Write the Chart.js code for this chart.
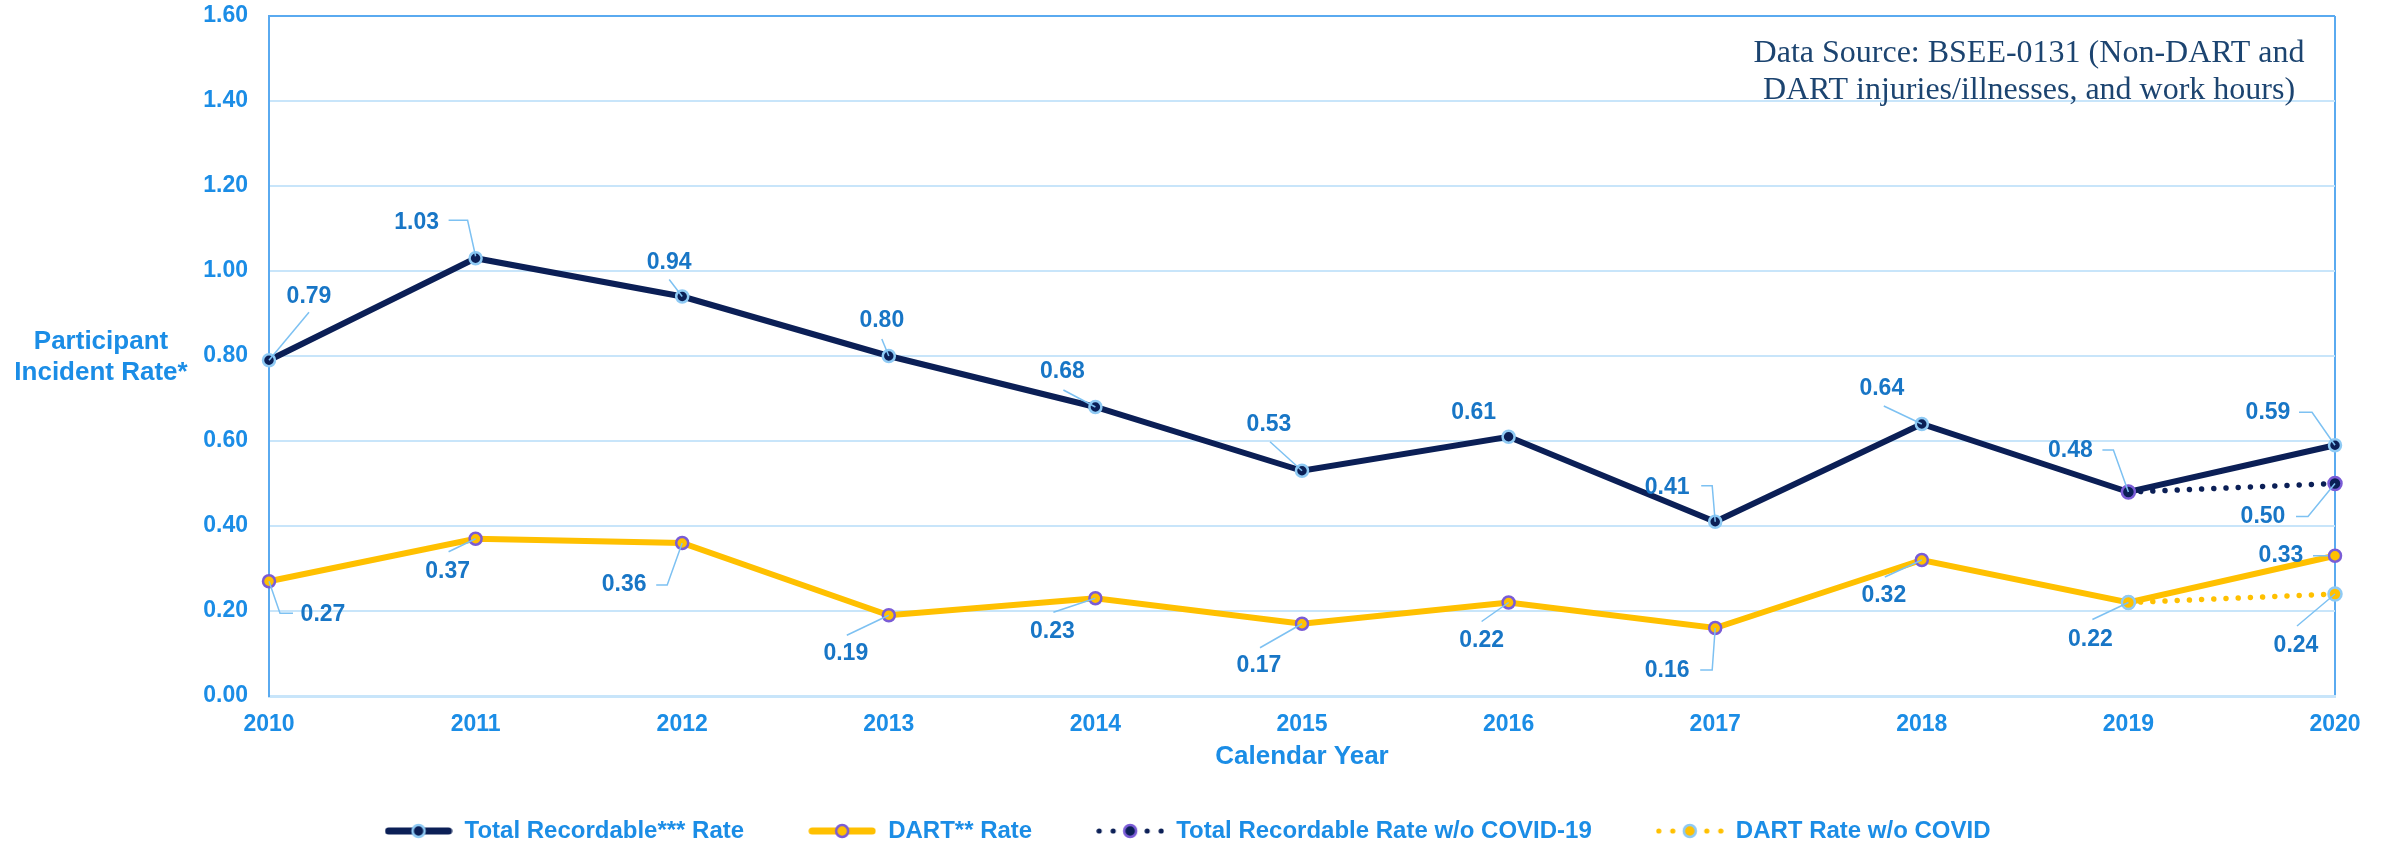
<!DOCTYPE html>
<html>
<head>
<meta charset="utf-8">
<script src="https://cdn.jsdelivr.net/npm/chart.js@4.4.0/dist/chart.umd.min.js"></script>
<style>
  html, body { margin: 0; padding: 0; background: #fff; }
</style>
</head>
<body>
<canvas id="rateChart" width="2389" height="845"></canvas>
<script>
// --- data ---
const years = ['2010', '2011', '2012', '2013', '2014', '2015', '2016', '2017', '2018', '2019', '2020'];
const totalRecordable = [0.79, 1.03, 0.94, 0.80, 0.68, 0.53, 0.61, 0.41, 0.64, 0.48, 0.59];
const dartRate = [0.27, 0.37, 0.36, 0.19, 0.23, 0.17, 0.22, 0.16, 0.32, 0.22, 0.33];
const totalNoCovid = [null, null, null, null, null, null, null, null, null, 0.48, 0.50];
const dartNoCovid = [null, null, null, null, null, null, null, null, null, 0.22, 0.24];
const seriesNames = ['Total Recordable*** Rate', 'DART** Rate', 'Total Recordable Rate w/o COVID-19', 'DART Rate w/o COVID'];

// colours
const NAVY = '#0b1f56';
const GOLD = '#ffc000';
const SKY = '#8fcaf4';
const PURPLE = '#7a5cd6';
const TICK_BLUE = '#1b8de6';
const LABEL_BLUE = '#1876c6';
const GRID = '#c8e5fa';
const AXIS = '#5aaaf0';
const FONT = "'Liberation Sans', Arial, sans-serif";

// where each value label sits, relative to its point (dx, dy = label centre; lead = leader line)
const labelSpots = [
  [
    {dx: 40, dy: -64, lead: [[0, 0], [40, -48]]},
    {dx: -59, dy: -36, lead: [[0, -2], [-8, -38], [-27, -38]]},
    {dx: -13, dy: -34, lead: [[0, 0], [-13, -17]]},
    {dx: -7, dy: -35, lead: [[0, 0], [-7, -17]]},
    {dx: -33, dy: -35, lead: [[0, 0], [-32, -17]]},
    {dx: -33, dy: -46, lead: [[0, 0], [-32, -29]]},
    {dx: -35, dy: -24, lead: null},
    {dx: -48, dy: -34, lead: [[0, 0], [-3, -36], [-14, -36]]},
    {dx: -40, dy: -35, lead: [[0, 0], [-38, -18]]},
    {dx: -58, dy: -41, lead: [[0, 0], [-15, -42], [-26, -42]]},
    {dx: -67, dy: -33, lead: [[0, 0], [-23, -33], [-36, -33]]}
  ],
  [
    {dx: 54, dy: 33, lead: [[0, 0], [11, 32], [24, 32]]},
    {dx: -28, dy: 33, lead: [[0, 0], [-27, 13]]},
    {dx: -58, dy: 42, lead: [[0, 0], [-15, 42], [-26, 42]]},
    {dx: -43, dy: 38, lead: [[0, 0], [-42, 20]]},
    {dx: -43, dy: 33, lead: [[0, 0], [-42, 14]]},
    {dx: -43, dy: 42, lead: [[0, 0], [-42, 24]]},
    {dx: -27, dy: 38, lead: [[0, 0], [-27, 19]]},
    {dx: -48, dy: 43, lead: [[0, 0], [-3, 42], [-15, 42]]},
    {dx: -38, dy: 36, lead: [[0, 0], [-37, 17]]},
    {dx: -38, dy: 37, lead: [[0, 0], [-36, 17]]},
    {dx: -54, dy: 0, lead: [[-7, 0], [-22, 0]]}
  ],
  [null, null, null, null, null, null, null, null, null, null,
    {dx: -72, dy: 33, lead: [[0, 0], [-27, 33], [-39, 33]]}],
  [null, null, null, null, null, null, null, null, null, null,
    {dx: -39, dy: 52, lead: [[0, 0], [-38, 32]]}]
];

// little legend samples: line (solid or dotted) with a marker in the middle
function legendSample(color, dotted, markFill, markStroke) {
  const c = document.createElement('canvas');
  c.width = 68; c.height = 20;
  const g = c.getContext('2d');
  g.fillStyle = color;
  if (dotted) {
    [3, 17, 51, 65].forEach(x => { g.beginPath(); g.arc(x, 10, 2.6, 0, Math.PI * 2); g.fill(); });
  } else {
    g.strokeStyle = color;
    g.lineWidth = 7;
    g.lineCap = 'round';
    g.beginPath(); g.moveTo(4, 10); g.lineTo(64, 10); g.stroke();
  }
  g.beginPath();
  g.arc(34, 10, 6, 0, Math.PI * 2);
  g.fillStyle = markFill; g.fill();
  g.lineWidth = 2.5; g.strokeStyle = markStroke; g.stroke();
  return c;
}
const legendImages = [
  legendSample(NAVY, false, NAVY, SKY),
  legendSample(GOLD, false, GOLD, PURPLE),
  legendSample(NAVY, true, NAVY, PURPLE),
  legendSample(GOLD, true, GOLD, SKY)
];

const valueLabels = {
  id: 'valueLabels',
  afterDatasetsDraw(chart) {
    const ctx = chart.ctx;
    ctx.save();
    chart.data.datasets.forEach((ds, di) => {
      const meta = chart.getDatasetMeta(di);
      ds.data.forEach((v, i) => {
        const spot = labelSpots[di][i];
        if (v == null || !spot) return;
        const el = meta.data[i];
        if (spot.lead) {
          ctx.strokeStyle = '#7dc1f2';
          ctx.lineWidth = 1.5;
          ctx.beginPath();
          spot.lead.forEach((p, k) => {
            if (k === 0) ctx.moveTo(el.x + p[0], el.y + p[1]);
            else ctx.lineTo(el.x + p[0], el.y + p[1]);
          });
          ctx.stroke();
        }
        ctx.fillStyle = LABEL_BLUE;
        ctx.font = 'bold 23px ' + FONT;
        ctx.textAlign = 'center';
        ctx.textBaseline = 'middle';
        ctx.fillText(v.toFixed(2), el.x + spot.dx, el.y + spot.dy);
      });
    });
    ctx.restore();
  }
};

const extraText = {
  id: 'extraText',
  afterLayout(chart) {
    // legend sits a little right of the plot-area centre in the original
    chart.legend.left += 20;
    chart.legend.right += 20;
  },
  afterDraw(chart) {
    const ctx = chart.ctx;
    ctx.save();
    // horizontal y-axis title
    ctx.fillStyle = TICK_BLUE;
    ctx.font = 'bold 26px ' + FONT;
    ctx.textAlign = 'center';
    ctx.textBaseline = 'middle';
    ctx.fillText('Participant', 101, 342);
    ctx.fillText('Incident Rate*', 101, 373);
    // data source note
    ctx.fillStyle = '#1c4470';
    ctx.font = "32px 'Liberation Serif', 'Times New Roman', serif";
    ctx.textBaseline = 'alphabetic';
    ctx.fillText('Data Source: BSEE-0131 (Non-DART and', 2029, 62);
    ctx.fillText('DART injuries/illnesses, and work hours)', 2029, 99);
    ctx.restore();
  }
};

const ctx = document.getElementById('rateChart').getContext('2d');
new Chart(ctx, {
  type: 'line',
  data: {
    labels: years,
    datasets: [
      {
        label: seriesNames[0], data: totalRecordable,
        borderColor: NAVY, borderWidth: 6, backgroundColor: NAVY,
        pointRadius: 6, pointBorderWidth: 2.5, pointBorderColor: SKY, pointBackgroundColor: NAVY,
        tension: 0, clip: false, order: 2
      },
      {
        label: seriesNames[1], data: dartRate,
        borderColor: GOLD, borderWidth: 6, backgroundColor: GOLD,
        pointRadius: 6, pointBorderWidth: 2.5, pointBorderColor: PURPLE, pointBackgroundColor: GOLD,
        tension: 0, clip: false, order: 2
      },
      {
        label: seriesNames[2], data: totalNoCovid,
        borderColor: NAVY, borderWidth: 5.5, borderDash: [0.01, 12.2], borderCapStyle: 'round',
        pointRadius: 6.5, pointBorderWidth: 2.5, pointBorderColor: PURPLE, pointBackgroundColor: NAVY,
        spanGaps: false, tension: 0, clip: false, order: 1
      },
      {
        label: seriesNames[3], data: dartNoCovid,
        borderColor: GOLD, borderWidth: 5.5, borderDash: [0.01, 12.2], borderCapStyle: 'round',
        pointRadius: 6.5, pointBorderWidth: 2.5, pointBorderColor: SKY, pointBackgroundColor: GOLD,
        spanGaps: false, tension: 0, clip: false, order: 1
      }
    ]
  },
  options: {
    responsive: false,
    animation: false,
    devicePixelRatio: 1,
    layout: { padding: { top: 16, right: 54, bottom: -8, left: 0 } },
    scales: {
      x: {
        grid: {
          drawTicks: false,
          lineWidth: 2,
          color: c => c.index === years.length - 1 ? AXIS : 'rgba(0,0,0,0)'
        },
        border: { color: GRID, width: 3 },
        ticks: { color: TICK_BLUE, font: { family: FONT, size: 23, weight: 'bold' }, padding: 15, maxRotation: 0 },
        title: {
          display: true, text: 'Calendar Year', color: TICK_BLUE,
          font: { family: FONT, size: 26, weight: 'bold' },
          padding: { top: 0, bottom: -17 }
        },
        afterFit: s => { s.height = 59; }
      },
      y: {
        min: 0, max: 1.6,
        grid: {
          drawTicks: true,
          tickLength: 21,
          tickColor: 'rgba(0,0,0,0)',
          lineWidth: 2,
          color: c => c.tick && c.tick.value >= 1.6 ? AXIS : GRID
        },
        border: { color: AXIS, width: 2 },
        ticks: {
          stepSize: 0.2, padding: 0, color: TICK_BLUE,
          font: { family: FONT, size: 23, weight: 'bold' },
          callback: v => v.toFixed(2)
        },
        afterFit: s => { s.width = 269; }
      }
    },
    plugins: {
      tooltip: { enabled: false },
      legend: {
        position: 'bottom',
        labels: {
          usePointStyle: true,
          pointStyleWidth: 68,
          padding: 64,
          color: TICK_BLUE,
          font: { family: FONT, size: 24, weight: 'bold' },
          generateLabels: chart => chart.data.datasets.map((ds, i) => ({
            text: ds.label,
            pointStyle: legendImages[i],
            fillStyle: 'rgba(0,0,0,0)',
            strokeStyle: 'rgba(0,0,0,0)',
            lineWidth: 0,
            fontColor: TICK_BLUE,
            hidden: false,
            datasetIndex: i
          }))
        }
      }
    }
  },
  plugins: [valueLabels, extraText]
});
</script>
</body>
</html>
